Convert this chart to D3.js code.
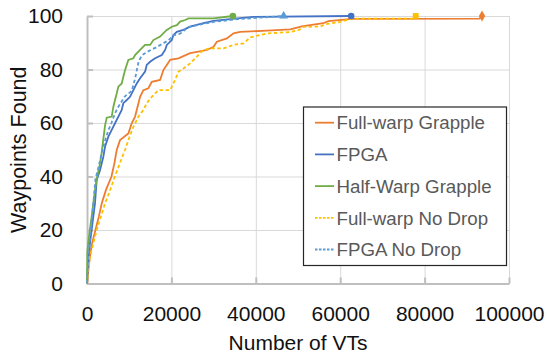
<html>
    <head>
        <script src="https://d3js.org/d3.v7.min.js"></script>
    </head>
    <body>
        <div id="chart"></div>

    <script>
    // waypoints found vs number of VTs
    var seriesNames = ['Full-warp Grapple', 'FPGA', 'Half-Warp Grapple', 'Full-warp No Drop', 'FPGA No Drop'];

    var fullWarpX = [0, 300, 700, 1200, 2000, 2800, 3500, 4500, 5800, 6500, 7040, 7830, 9800, 10600, 11390, 12580, 13360, 14550, 15350, 17320, 18100, 18910, 19700, 21670, 24440, 26410, 28400, 29980, 30780, 33150, 34720, 36300, 42640, 48200, 50900, 56000, 57200, 62800, 93000, 93600];
    var fullWarpY = [0, 5, 10, 15, 20, 25, 30, 35, 40, 45, 49.9, 53.6, 56.1, 59.9, 62.4, 69.8, 72.3, 73, 75.4, 76.1, 79.8, 81.7, 83.6, 84.2, 86.1, 86.7, 87.3, 88.5, 90.4, 91.6, 93.5, 94.1, 94.5, 95, 96.1, 97.3, 98.1, 98.9, 99, 100];

    var fpgaX = [0, 300, 700, 1100, 1900, 2300, 3100, 3870, 4270, 5060, 5860, 6640, 7430, 8230, 8610, 9420, 10200, 10990, 11790, 12580, 13760, 14160, 14950, 16140, 17730, 18510, 18910, 20100, 20480, 21290, 22850, 24440, 27600, 29980, 35000, 39470, 62600];
    var fpgaY = [0, 8.8, 15, 20, 30, 38.7, 42.4, 47.4, 51.1, 54.9, 57.4, 59.9, 62.4, 64.9, 67.4, 68.6, 69.8, 72.3, 74.8, 76.7, 79.2, 81.7, 82.9, 84.2, 85.4, 87.3, 89.2, 91, 92.9, 94.1, 94.8, 96, 97.3, 98.2, 99, 99.7, 100];

    var halfWarpX = [0, 80, 500, 1100, 1900, 2300, 2700, 3100, 3480, 3870, 4270, 4670, 5860, 6240, 6640, 7040, 7430, 8230, 8610, 9020, 9800, 10990, 11390, 12580, 13760, 14950, 15730, 17320, 18910, 20100, 21290, 22070, 23250, 24040, 29980, 34570];
    var halfWarpY = [0, 12, 18, 25, 35, 39, 42, 45, 49, 54, 59, 62, 62.4, 66, 68.6, 71, 73.6, 74.8, 77.3, 79.8, 83.6, 84.2, 85.4, 87.3, 89.2, 89.2, 91, 92.3, 94.8, 96, 96.6, 97.9, 98.5, 99.1, 99.1, 100];

    var fullNoDropX = [0, 700, 1500, 2300, 3300, 4300, 5500, 6600, 7800, 9000, 9800, 11000, 12200, 13360, 14160, 15350, 16920, 19700, 20880, 21670, 22850, 24440, 25630, 26800, 27600, 29190, 32350, 34720, 37100, 38680, 42640, 48170, 50150, 51330, 55300, 56500, 60000, 62800, 77300, 77900];
    var fullNoDropY = [0, 10, 15, 20, 25, 30, 35, 40, 45, 49.9, 53.6, 58.6, 62.4, 64.9, 67.4, 69.8, 72.3, 72.3, 76.1, 79.2, 80.4, 82.3, 84.2, 86.1, 87.3, 87.9, 87.9, 89.2, 89.8, 92, 93.5, 94, 94.7, 95.9, 96.1, 96.9, 97.8, 99, 99, 100];

    var fpgaNoDropX = [0, 300, 900, 1500, 2000, 2800, 3500, 4200, 5000, 5800, 6600, 7400, 8200, 9000, 9800, 10600, 11400, 12200, 13000, 14160, 16540, 19300, 20480, 22070, 24040, 29980, 35520, 46600];
    var fpgaNoDropY = [0, 10, 20, 30, 39, 44, 49, 53, 57, 60, 63.5, 66, 68, 70, 71, 72, 76.6, 82.8, 85.3, 86.5, 88.4, 90.9, 92.8, 93.4, 95.9, 97.8, 98.8, 100];

    var xTicks = [0, 20000, 40000, 60000, 80000, 100000];
    var yTicks = [0, 20, 40, 60, 80, 100];

    var width = 547,
    height = 353,
    margin = { top: 16, right: 38, bottom: 69.5, left: 87 },
    plotW = width - margin.left - margin.right,
    plotH = height - margin.top - margin.bottom;

    var font = "'Liberation Sans', Arial, sans-serif";

    var series = [
        { name: seriesNames[0], xs: fullWarpX, ys: fullWarpY, color: '#ED7D31', dash: null, marker: 'diamond' },
        { name: seriesNames[1], xs: fpgaX, ys: fpgaY, color: '#4472C4', dash: null, marker: 'circle' },
        { name: seriesNames[2], xs: halfWarpX, ys: halfWarpY, color: '#70AD47', dash: null, marker: 'circle' },
        { name: seriesNames[3], xs: fullNoDropX, ys: fullNoDropY, color: '#FFC000', dash: '3.5,2.5', marker: 'square' },
        { name: seriesNames[4], xs: fpgaNoDropX, ys: fpgaNoDropY, color: '#5B9BD5', dash: '3.5,2.5', marker: 'triangle' }
    ];

    var svg = d3
    .select('#chart')
    .append('svg')
    .attr('width', width)
    .attr('height', height)
    .style('font-family', font);

    var g = svg.append('g').attr('transform', 'translate(' + margin.left + ',' + margin.top + ')');

    var xScale = d3.scaleLinear().domain([0, 100000]).range([0, plotW]);
    var yScale = d3.scaleLinear().domain([0, 100]).range([plotH, 0]);

    // gridlines
    g.append('g')
    .attr('class', 'grid')
    .attr('transform', 'translate(0,' + plotH + ')')
    .call(d3.axisBottom(xScale).tickValues(xTicks).tickSize(-plotH).tickFormat(''))
    .call(function (s) { s.select('.domain').remove(); });

    g.append('g')
    .attr('class', 'grid')
    .call(d3.axisLeft(yScale).tickValues(yTicks).tickSize(-plotW).tickFormat(''))
    .call(function (s) { s.select('.domain').remove(); });

    g.selectAll('.grid line').attr('stroke', '#d9d9d9').attr('stroke-width', 1);

    // axes
    var xAxis = g.append('g')
    .attr('transform', 'translate(0,' + plotH + ')')
    .call(d3.axisBottom(xScale).tickValues(xTicks).tickSizeInner(-6).tickSizeOuter(0).tickPadding(23).tickFormat(d3.format('d')));

    var yAxis = g.append('g')
    .call(d3.axisLeft(yScale).tickValues(yTicks).tickSizeInner(-6).tickSizeOuter(0).tickPadding(24).tickFormat(d3.format('d')));

    [xAxis, yAxis].forEach(function (a) {
        a.select('.domain').attr('stroke', '#bfbfbf').attr('stroke-width', 2);
        a.selectAll('.tick line').attr('stroke', '#bfbfbf').attr('stroke-width', 2);
        a.selectAll('.tick text').attr('fill', '#111').style('font-size', '21px').style('font-family', font);
    });

    // lines
    var line = d3.line()
    .x(function (d) { return xScale(d[0]); })
    .y(function (d) { return yScale(d[1]); });

    series.forEach(function (s) {
        s.points = s.xs.map(function (x, i) { return [x, s.ys[i]]; });
    });

    g.selectAll('.series')
    .data(series)
    .enter()
    .append('path')
    .attr('class', 'series')
    .attr('d', function (d) { return line(d.points); })
    .attr('fill', 'none')
    .attr('stroke', function (d) { return d.color; })
    .attr('stroke-width', 1.8)
    .attr('stroke-dasharray', function (d) { return d.dash; });

    // end markers
    var symbolTypes = {
        circle: d3.symbolCircle,
        diamond: d3.symbolDiamond,
        square: d3.symbolSquare,
        triangle: d3.symbolTriangle
    };

    g.selectAll('.marker')
    .data(series)
    .enter()
    .append('path')
    .attr('class', 'marker')
    .attr('transform', function (d) {
        var last = d.points[d.points.length - 1];
        return 'translate(' + xScale(last[0]) + ',' + yScale(last[1]) + ')';
    })
    .attr('d', function (d) { return d3.symbol().type(symbolTypes[d.marker]).size(34)(); })
    .attr('fill', function (d) { return d.color; });

    // axis titles
    svg.append('text')
    .attr('x', margin.left + plotW / 2)
    .attr('y', 350)
    .attr('text-anchor', 'middle')
    .attr('fill', '#111')
    .style('font-size', '21px')
    .text('Number of VTs');

    svg.append('text')
    .attr('transform', 'translate(26,' + (margin.top + plotH / 2) + ') rotate(-90)')
    .attr('text-anchor', 'middle')
    .attr('fill', '#111')
    .style('font-size', '21.5px')
    .text('Waypoints Found');

    // legend
    var legend = svg.append('g').attr('transform', 'translate(303.5,107)');

    legend.append('rect')
    .attr('width', 203)
    .attr('height', 158.5)
    .attr('fill', '#fff')
    .attr('stroke', '#262626')
    .attr('stroke-width', 1.2);

    var rows = legend.selectAll('.row')
    .data(series)
    .enter()
    .append('g')
    .attr('class', 'row')
    .attr('transform', function (d, i) { return 'translate(0,' + (15.7 + i * 31.7) + ')'; });

    rows.append('line')
    .attr('x1', 11.5)
    .attr('x2', 30.5)
    .attr('stroke', function (d) { return d.color; })
    .attr('stroke-width', 1.8)
    .attr('stroke-dasharray', function (d) { return d.dash ? '2.5,1.5' : null; });

    rows.append('text')
    .attr('x', 33)
    .attr('dy', '0.36em')
    .attr('fill', '#595959')
    .style('font-size', '18.7px')
    .text(function (d) { return d.name; });
    </script>

    <style>
    * {
        margin: 0;
        padding: 0;
    }
    body {
        background: #fff;
    }
    </style>
</html>
